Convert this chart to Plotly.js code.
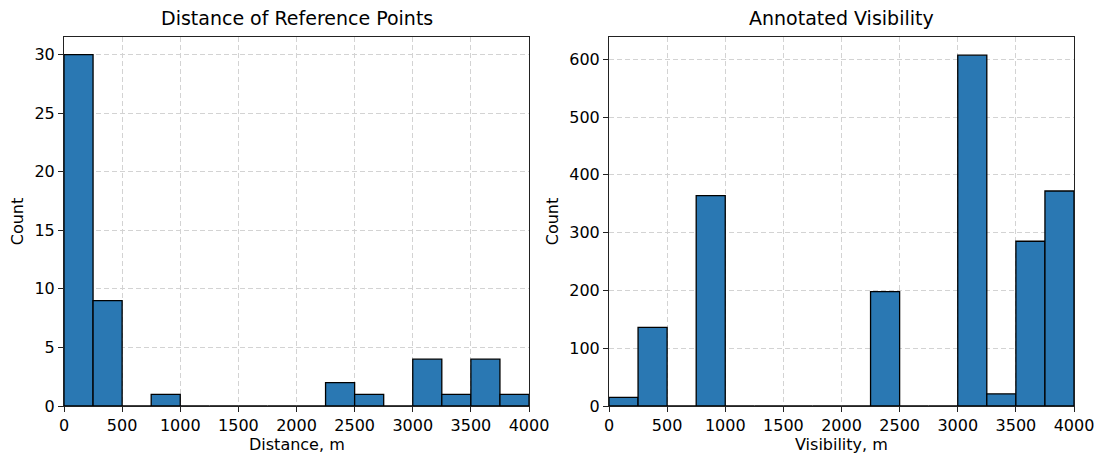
<!DOCTYPE html>
<html>
<head>
<meta charset="utf-8">
<script src="https://cdn.plot.ly/plotly-3.0.1.min.js"></script>
<style>html,body{margin:0;padding:0;background:#fff;}#chart{width:1097px;height:456px;}</style>
</head>
<body>
<div id="chart"></div>
<script>
// Bin left edges (width 250 m)
const binStarts = [0, 250, 500, 750, 1000, 1250, 1500, 1750, 2000, 2250, 2500, 2750, 3000, 3250, 3500, 3750];
const binWidth = 250;
// Counts
const distanceCounts = [30, 9, 0, 1, 0, 0, 0, 0, 0, 2, 1, 0, 4, 1, 4, 1];
const visibilityCounts = [15, 136, 0, 364, 0, 0, 0, 0, 0, 198, 0, 0, 607, 21, 285, 372];
const xTicks = [0, 500, 1000, 1500, 2000, 2500, 3000, 3500, 4000];
const leftYTicks = [0, 5, 10, 15, 20, 25, 30];
const rightYTicks = [0, 100, 200, 300, 400, 500, 600];
const titles = ['Distance of Reference Points', 'Annotated Visibility'];
const xTitles = ['Distance, m', 'Visibility, m'];

const centers = binStarts.map(s => s + binWidth / 2);
const barColor = '#2a78b3';

function barTrace(counts, xa, ya) {
  return {
    type: 'bar', x: centers, y: counts, width: binWidth,
    xaxis: xa, yaxis: ya,
    marker: {color: barColor, line: {color: '#000', width: 1.3}},
    hoverinfo: 'x+y'
  };
}

const FAM = 'DejaVu Sans, sans-serif';
const font = {family: FAM, color: '#000'};
function common() {
  return {
    ticks: 'outside', ticklen: 5, tickcolor: '#222', tickwidth: 1,
    showline: true, mirror: true, linecolor: '#222', linewidth: 1,
    showgrid: true, gridcolor: '#d3d3d3', griddash: '5px,3px', gridwidth: 1,
    zeroline: false,
    tickfont: {family: FAM, size: 16, color: '#000'}
  };
}
function xAxis(domain, anchor) {
  return Object.assign(common(), {
    domain: domain, anchor: anchor, range: [0, 4000],
    tickvals: xTicks, ticktext: xTicks.map(String)
  });
}
function yAxis(domain, ticks, maxv, anchor) {
  return Object.assign(common(), {
    domain: domain, anchor: anchor, range: [0, maxv * 1.05],
    tickvals: ticks, ticktext: ticks.map(String),
    title: {text: 'Count', font: {family: FAM, size: 16, color: '#000'}, standoff: 6}
  });
}

const xDoms = [[64 / 1097, 529 / 1097], [609 / 1097, 1074 / 1097]];
const yDom = [1 - 406 / 456, 1 - 37 / 456];
const annotations = [];
for (let i = 0; i < 2; i++) {
  const cx = (xDoms[i][0] + xDoms[i][1]) / 2;
  annotations.push({text: titles[i], xref: 'paper', yref: 'paper',
    x: cx, y: 1 - 18 / 456, xanchor: 'center', yanchor: 'middle',
    showarrow: false, font: {family: FAM, size: 19, color: '#000'}});
  annotations.push({text: xTitles[i], xref: 'paper', yref: 'paper',
    x: cx, y: 1 - 444 / 456, xanchor: 'center', yanchor: 'middle',
    showarrow: false, font: {family: FAM, size: 16, color: '#000'}});
}

const layout = {
  width: 1097, height: 456,
  margin: {l: 0, r: 0, t: 0, b: 0},
  paper_bgcolor: '#fff', plot_bgcolor: '#fff',
  showlegend: false, bargap: 0,
  font: font,
  xaxis: xAxis(xDoms[0], 'y'),
  yaxis: yAxis(yDom, leftYTicks, 30, 'x'),
  xaxis2: xAxis(xDoms[1], 'y2'),
  yaxis2: yAxis(yDom, rightYTicks, 608, 'x2'),
  annotations: annotations
};

Plotly.newPlot('chart', [
  barTrace(distanceCounts, 'x', 'y'),
  barTrace(visibilityCounts, 'x2', 'y2')
], layout, {displayModeBar: false, staticPlot: true});
</script>
</body>
</html>
